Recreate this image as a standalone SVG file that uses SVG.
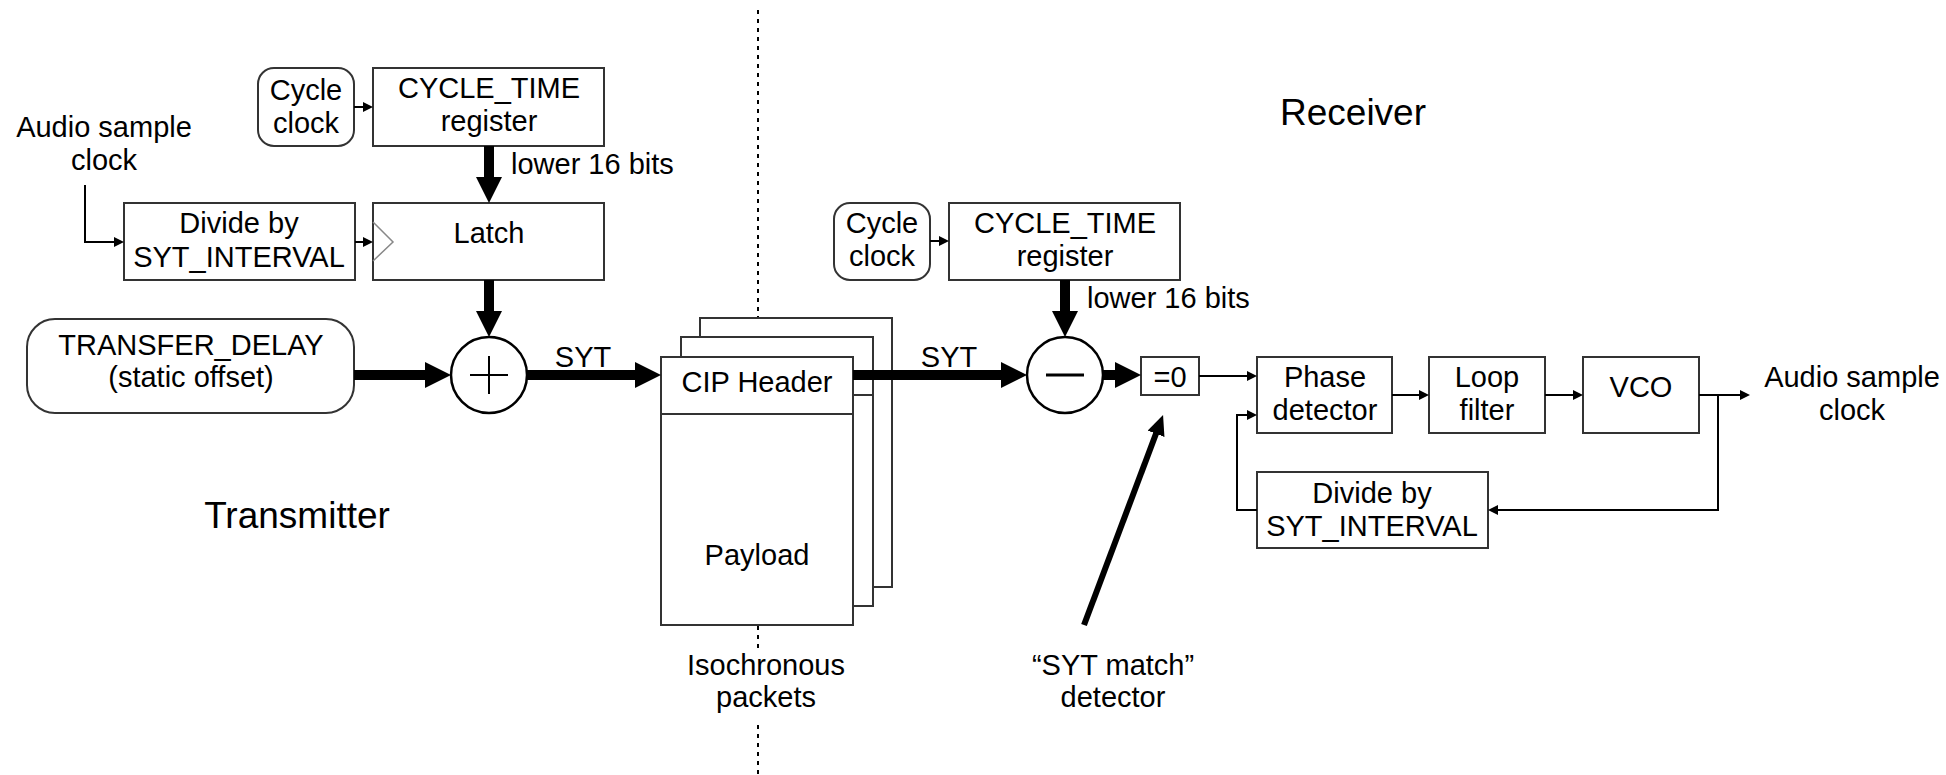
<svg xmlns="http://www.w3.org/2000/svg" width="1946" height="775" viewBox="0 0 1946 775">
<defs>
<style>
text{font-family:"Liberation Sans",Arial,sans-serif;font-size:29px;fill:#000;text-anchor:middle}
.title{font-size:37px}
.lft{text-anchor:start}
.box{fill:#fff;stroke:#333;stroke-width:2}
.circ{fill:#fff;stroke:#000;stroke-width:2.5}
.thin{fill:none;stroke:#000;stroke-width:2;marker-end:url(#ah)}
.thick{fill:none;stroke:#000;stroke-width:10;marker-end:url(#AH)}
.dot{stroke:#000;stroke-width:2;stroke-dasharray:4 5}
</style>
<marker id="ah" markerUnits="userSpaceOnUse" markerWidth="10" markerHeight="10" refX="2" refY="5" orient="auto"><path d="M0,0 L10,5 L0,10 z" fill="#000"/></marker>
<marker id="AH" markerUnits="userSpaceOnUse" markerWidth="26" markerHeight="26" refX="6" refY="13" orient="auto"><path d="M0,0 L26,13 L0,26 z" fill="#000"/></marker>
<marker id="AM" markerUnits="userSpaceOnUse" markerWidth="20" markerHeight="18" refX="4" refY="9" orient="auto"><path d="M0,0 L20,9 L0,18 z" fill="#000"/></marker>
</defs>
<rect width="1946" height="775" fill="#fff"/>

<g id="divider">
<line class="dot" x1="758" y1="10" x2="758" y2="318"/>
<line class="dot" x1="758" y1="626" x2="758" y2="648"/>
<line class="dot" x1="758" y1="725" x2="758" y2="775"/>
</g>

<g id="labels">
<text class="title" x="1353" y="125">Receiver</text>
<text class="title" x="297" y="528">Transmitter</text>
<text x="104" y="137">Audio sample</text>
<text x="104" y="170">clock</text>
<text class="lft" x="511" y="174">lower 16 bits</text>
<text class="lft" x="1087" y="308">lower 16 bits</text>
<text x="583" y="367">SYT</text>
<text x="949" y="367">SYT</text>
<text x="1852" y="387">Audio sample</text>
<text x="1852" y="420">clock</text>
<text x="766" y="675">Isochronous</text>
<text x="766" y="707">packets</text>
<text x="1113" y="675">“SYT match”</text>
<text x="1113" y="707">detector</text>
</g>

<g id="tx-cycleclock">
<rect class="box" x="258" y="68" width="96" height="78" rx="16"/>
<text x="306" y="100">Cycle</text><text x="306" y="133">clock</text>
</g>
<g id="tx-cycletime">
<rect class="box" x="373" y="68" width="231" height="78"/>
<text x="489" y="98">CYCLE_TIME</text><text x="489" y="131">register</text>
</g>
<g id="tx-divide">
<rect class="box" x="124" y="203" width="231" height="77"/>
<text x="239" y="233">Divide by</text><text x="239" y="267">SYT_INTERVAL</text>
</g>
<g id="tx-latch">
<rect class="box" x="373" y="203" width="231" height="77"/>
<path d="M373,222 L393,242 L373,261" fill="none" stroke="#888" stroke-width="1.5"/>
<text x="489" y="243">Latch</text>
</g>
<g id="tx-delay">
<rect class="box" x="27" y="319" width="327" height="94" rx="28"/>
<text x="191" y="355">TRANSFER_DELAY</text><text x="191" y="387">(static offset)</text>
</g>
<g id="tx-plus">
<circle class="circ" cx="489" cy="375" r="38"/>
<path d="M470,375 H508 M489,356 V394" stroke="#000" stroke-width="2"/>
</g>

<g id="packets">
<rect class="box" x="700" y="318" width="192" height="269"/>
<rect class="box" x="681" y="337" width="192" height="269"/>
<line x1="681" y1="395" x2="873" y2="395" stroke="#333" stroke-width="2"/>
<rect class="box" x="661" y="357" width="192" height="268"/>
<line x1="661" y1="414" x2="853" y2="414" stroke="#333" stroke-width="2"/>
<text x="757" y="392">CIP Header</text>
<text x="757" y="565">Payload</text>
</g>

<g id="rx-cycleclock">
<rect class="box" x="834" y="203" width="96" height="77" rx="16"/>
<text x="882" y="233">Cycle</text><text x="882" y="266">clock</text>
</g>
<g id="rx-cycletime">
<rect class="box" x="949" y="203" width="231" height="77"/>
<text x="1065" y="233">CYCLE_TIME</text><text x="1065" y="266">register</text>
</g>
<g id="rx-minus">
<circle class="circ" cx="1065" cy="375" r="38"/>
<line x1="1046" y1="375" x2="1084" y2="375" stroke="#000" stroke-width="3"/>
</g>
<g id="rx-zero">
<rect class="box" x="1141" y="357" width="58" height="38"/>
<text x="1170" y="387">=0</text>
</g>
<g id="rx-phase">
<rect class="box" x="1257" y="357" width="135" height="76"/>
<text x="1325" y="387">Phase</text><text x="1325" y="420">detector</text>
</g>
<g id="rx-loop">
<rect class="box" x="1429" y="357" width="116" height="76"/>
<text x="1487" y="387">Loop</text><text x="1487" y="420">filter</text>
</g>
<g id="rx-vco">
<rect class="box" x="1583" y="357" width="116" height="76"/>
<text x="1641" y="397">VCO</text>
</g>
<g id="rx-divide">
<rect class="box" x="1257" y="472" width="231" height="76"/>
<text x="1372" y="503">Divide by</text><text x="1372" y="536">SYT_INTERVAL</text>
</g>

<g id="connectors">
<line class="thin" x1="354" y1="107" x2="365" y2="107"/>
<path class="thin" d="M85,185 V242 H116"/>
<line class="thin" x1="355" y1="242" x2="365" y2="242"/>
<line class="thick" x1="489" y1="146" x2="489" y2="183"/>
<line class="thick" x1="489" y1="280" x2="489" y2="317"/>
<line class="thick" x1="354" y1="375" x2="431" y2="375"/>
<line class="thick" x1="527" y1="375" x2="641" y2="375"/>
<line class="thin" x1="930" y1="241" x2="941" y2="241"/>
<line class="thick" x1="1065" y1="280" x2="1065" y2="317"/>
<line class="thick" x1="853" y1="375" x2="1007" y2="375"/>
<line class="thick" x1="1103" y1="375" x2="1121" y2="375"/>
<line class="thin" x1="1199" y1="376" x2="1249" y2="376"/>
<line class="thin" x1="1392" y1="395" x2="1421" y2="395"/>
<line class="thin" x1="1545" y1="395" x2="1575" y2="395"/>
<line class="thin" x1="1699" y1="395" x2="1742" y2="395"/>
<path class="thin" d="M1718,395 V510 H1496"/>
<path class="thin" d="M1257,510 H1237 V415 H1249"/>
<line x1="1084" y1="625" x2="1157.4" y2="430" stroke="#000" stroke-width="6" marker-end="url(#AM)"/>
</g>
</svg>
